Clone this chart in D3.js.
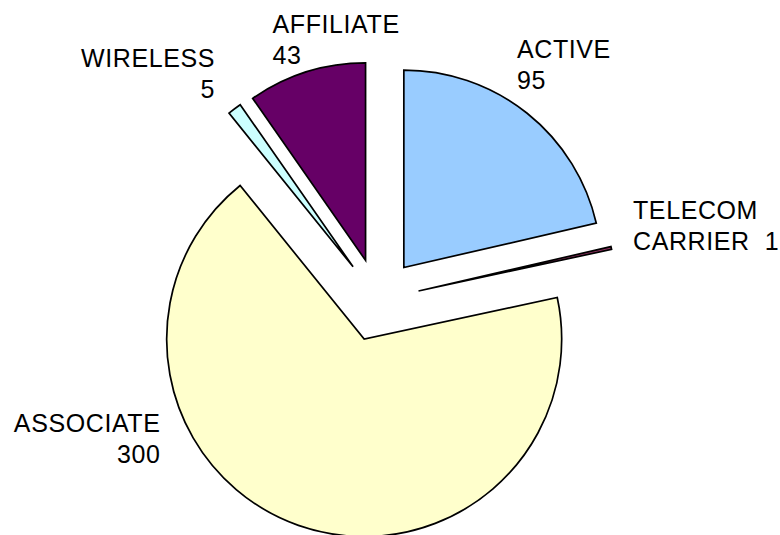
<!DOCTYPE html>
<html>
<head>
<meta charset="utf-8">
<script src="https://cdn.jsdelivr.net/npm/d3@7"></script>
<style>
  html, body { margin: 0; padding: 0; background: #fff; }
  svg { display: block; }
  text { font-family: "Liberation Sans", Arial, sans-serif; font-size: 25px; letter-spacing: 0.6px; fill: #000; white-space: pre; }
</style>
</head>
<body>
<svg id="chart" width="780" height="535"></svg>
<script>
// Data
const categories = ["ACTIVE", "TELECOM CARRIER", "ASSOCIATE", "WIRELESS", "AFFILIATE"];
const values = [95, 1, 300, 5, 43];
const labelLines = [["ACTIVE", "95"], ["TELECOM", "CARRIER  1"], ["ASSOCIATE", "300"], ["WIRELESS", "5"], ["AFFILIATE", "43"]];

// Styles / layout
const colors = ["#99CCFF", "#993366", "#FFFFCC", "#CCFFFF", "#660066"];
const center = [378, 300];
const radius = 197.5;
const explode = 41.5;
const lineGap = 31;
const labelLayout = [
  { x: 517, y: 58.3, anchor: "start" },
  { x: 633, y: 219.3, anchor: "start" },
  { x: 160.5, y: 431.7, anchor: "end" },
  { x: 215, y: 66.7, anchor: "end" },
  { x: 272.5, y: 33.3, anchor: "start" }
];

const svg = d3.select("#chart");
const pie = d3.pie().sort(null).value(d => d)(values);
const arc = d3.arc().innerRadius(0).outerRadius(radius);

const g = svg.append("g").attr("transform", `translate(${center[0]},${center[1]})`);

g.selectAll("path.slice")
  .data(pie)
  .enter()
  .append("path")
  .attr("class", "slice")
  .attr("d", arc)
  .attr("transform", d => {
    const a = (d.startAngle + d.endAngle) / 2;
    return `translate(${explode * Math.sin(a)},${-explode * Math.cos(a)})`;
  })
  .attr("fill", (d, i) => colors[i])
  .attr("stroke", "#000")
  .attr("stroke-width", 1.7)
  .attr("stroke-linejoin", "miter");

const labels = svg.selectAll("text.lbl")
  .data(labelLines)
  .enter()
  .append("text")
  .attr("class", "lbl")
  .attr("text-anchor", (d, i) => labelLayout[i].anchor);

labels.each(function (lines, i) {
  const t = d3.select(this);
  lines.forEach((ln, k) => {
    t.append("tspan")
      .attr("x", labelLayout[i].x)
      .attr("y", labelLayout[i].y + k * lineGap)
      .text(ln);
  });
});
</script>
</body>
</html>
